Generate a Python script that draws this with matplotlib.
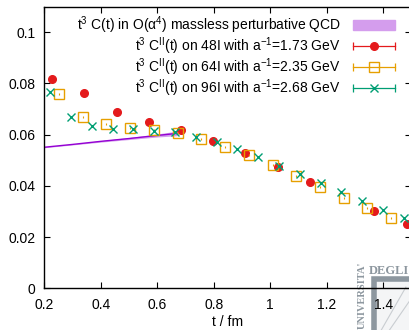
import matplotlib
matplotlib.use("Agg")
import matplotlib.pyplot as plt
from matplotlib.lines import Line2D
from matplotlib.patches import Patch, Rectangle
from matplotlib.legend_handler import HandlerLine2D, HandlerTuple

plt.rcParams['font.family'] = ['Liberation Sans', 'DejaVu Sans']
plt.rcParams['mathtext.fontset'] = 'custom'
plt.rcParams['mathtext.rm'] = 'Liberation Sans'
plt.rcParams['mathtext.it'] = 'Liberation Sans:italic'
plt.rcParams['font.size'] = 10

# flow time in fm and t^3 C(t) for each ensemble
t_48 = [0.228, 0.342, 0.456, 0.571, 0.684, 0.798, 0.912, 1.026, 1.140, 1.368, 1.483]
c_48 = [0.0819, 0.0762, 0.0690, 0.0650, 0.0617, 0.0577, 0.0530, 0.0475, 0.0416, 0.0303, 0.0251]

t_64 = [0.252, 0.336, 0.420, 0.504, 0.588, 0.672, 0.756, 0.840, 0.924, 1.008,
        1.092, 1.176, 1.260, 1.344, 1.428]
c_64 = [0.0759, 0.0670, 0.0641, 0.0627, 0.0618, 0.0605, 0.0583, 0.0553, 0.0520, 0.0482,
        0.0439, 0.0397, 0.0354, 0.0313, 0.0276]

t_96 = [0.221, 0.295, 0.368, 0.442, 0.515, 0.589, 0.663, 0.736, 0.810, 0.884,
        0.957, 1.031, 1.105, 1.178, 1.252, 1.325, 1.399, 1.473]
c_96 = [0.0766, 0.0668, 0.0633, 0.0622, 0.0622, 0.0616, 0.0609, 0.0592, 0.0570, 0.0543,
        0.0512, 0.0479, 0.0447, 0.0410, 0.0375, 0.0340, 0.0306, 0.0273]
err = 0.0004

# perturbative curve with its band
t_pt = [0.15, 0.2, 0.3, 0.4, 0.5, 0.6, 0.67]
c_pt = [0.0545, 0.0551, 0.0562, 0.0574, 0.0585, 0.0597, 0.0605]
w_pt = [0.0002, 0.0002, 0.0002, 0.0003, 0.0004, 0.0006, 0.0009]

labels = [r"t$^3$ C(t) in O(α$^4$) massless perturbative QCD",
          r"t$^3$ C$^{\rm II}$(t) on 48I with a$^{-1}$=1.73 GeV",
          r"t$^3$ C$^{\rm II}$(t) on 64I with a$^{-1}$=2.35 GeV",
          r"t$^3$ C$^{\rm II}$(t) on 96I with a$^{-1}$=2.68 GeV"]

red, orange, green = '#e41a1c', '#e69f00', '#009e73'
band_col, line_col = '#d49ded', '#9400d3'
logo_col = '#8d979f'

fig = plt.figure(figsize=(4.1, 3.3), dpi=100, facecolor='white')
ax = fig.add_axes([0.108, 0.1264, 0.8956, 0.8533])
ax.set_facecolor('none')

lo = [c - w for c, w in zip(c_pt, w_pt)]
hi = [c + w for c, w in zip(c_pt, w_pt)]
ax.fill_between(t_pt, lo, hi, color=band_col, lw=0, zorder=1)
ax.plot(t_pt, c_pt, color=line_col, lw=1.0, zorder=2)

ax.errorbar(t_48, c_48, yerr=err, fmt='o', color=red, ms=5.5, elinewidth=0.8, capsize=0, zorder=3)
ax.errorbar(t_64, c_64, yerr=err, fmt='s', color=orange, mfc='none', ms=6.5, mew=1.0,
            elinewidth=0.8, capsize=0, zorder=4)
ax.errorbar(t_96, c_96, yerr=err, fmt='x', color=green, ms=6, mew=1.0, elinewidth=0.8,
            capsize=0, zorder=5)

ax.set_xlim(0.2, 1.5)
ax.set_ylim(0, 0.11)
ax.set_xticks([0.2, 0.4, 0.6, 0.8, 1.0, 1.2, 1.4])
ax.set_xticklabels(['0.2', '0.4', '0.6', '0.8', '1', '1.2', '1.4'])
ax.set_yticks([0, 0.02, 0.04, 0.06, 0.08, 0.1])
ax.set_yticklabels(['0', '0.02', '0.04', '0.06', '0.08', '0.1'])
ax.tick_params(direction='in', length=4.5, width=0.8, top=True, right=True)
ax.tick_params(axis='x', pad=7)
ax.tick_params(axis='y', pad=6.5)
for s in ax.spines.values():
    s.set_linewidth(1.0)
ax.set_xlabel('t / fm', labelpad=2.5)

# legend handles: marker over a horizontal bar with end caps
def entry(col, mk, **kw):
    bar = Line2D([], [], color=col, lw=0.9, marker='|', ms=6, mew=0.9)
    pt = Line2D([], [], color=col, ls='none', marker=mk, **kw)
    return (bar, pt), bar, pt

hmap = {}
handles = [Patch(color=band_col)]
for col, mk, kw in [(red, 'o', dict(ms=5.5)),
                    (orange, 's', dict(ms=6.5, mfc='none', mew=1.0)),
                    (green, 'x', dict(ms=6, mew=1.0))]:
    h, bar, pt = entry(col, mk, **kw)
    hmap[bar] = HandlerLine2D(numpoints=2, marker_pad=0)
    hmap[pt] = HandlerLine2D(numpoints=1)
    handles.append(h)
hmap[tuple] = HandlerTuple(ndivide=1, pad=0)

leg = ax.legend(handles, labels, handler_map=hmap, loc='upper right',
                bbox_to_anchor=(0.955, 0.972), frameon=False, markerfirst=False,
                borderpad=0, borderaxespad=0, handlelength=3.0, handletextpad=0.9,
                labelspacing=-0.04, fontsize=10)

# faded logo in the lower right corner, behind the axes
fig.patches.append(Rectangle((0.913, -0.05), 0.12, 0.205, transform=fig.transFigure,
                             facecolor='#f4f5f6', edgecolor=logo_col, lw=4, zorder=-2))
fig.lines.append(Line2D([0.93, 0.99], [0.0, 0.13], transform=fig.transFigure,
                       color='#c9cdd1', lw=0.8, zorder=-1))
fig.lines.append(Line2D([0.95, 1.0], [0.0, 0.09], transform=fig.transFigure,
                       color='#c9cdd1', lw=0.8, zorder=-1))
fig.text(0.998, 0.178, 'DEGLI', family='Liberation Serif', weight='bold',
         color=logo_col, fontsize=9, va='center', ha='right', zorder=-1)
fig.text(0.884, 0.003, "UNIVERSITA'", family='Liberation Serif', weight='bold',
         color=logo_col, fontsize=7.5, rotation=90, va='bottom', ha='center', zorder=-1)

fig.savefig('out.png', dpi=100)
